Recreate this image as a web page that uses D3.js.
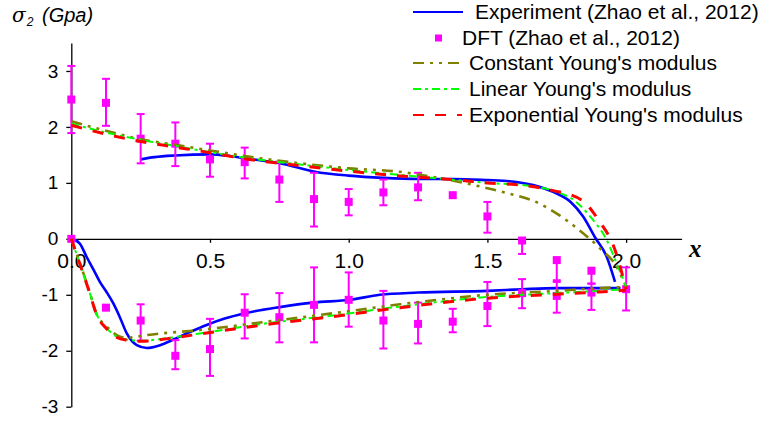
<!DOCTYPE html>
<html><head><meta charset="utf-8">
<script src="https://cdn.jsdelivr.net/npm/d3@7"></script>
<style>
html,body{margin:0;padding:0;background:#fff;}
svg{display:block;font-family:"Liberation Sans",Arial,sans-serif;}
</style></head>
<body><svg id="c" width="767" height="421"></svg>
<script>
// ---------------- data ----------------
const xTicks = [0, 0.5, 1.0, 1.5, 2.0];
const yTicks = [-3, -2, -1, 0, 1, 2, 3];

const legendLabels = ["Experiment (Zhao et al., 2012)", "DFT (Zhao et al., 2012)",
  "Constant Young's modulus", "Linear Young's modulus", "Exponential Young's modulus"];

// Experiment (blue) upper & lower branches
const expUpX = [0.25,0.3,0.375,0.5,0.56,0.625,0.752,0.878,1.0,1.125,1.25,1.375,1.5,1.58,1.665,1.75,1.8,1.845,1.89,1.93,1.96];
const expUpY = [1.42,1.46,1.49,1.51,1.49,1.44,1.35,1.20,1.13,1.09,1.07,1.07,1.05,1.03,0.96,0.81,0.66,0.40,0.01,-0.32,-0.77];
const expLoX = [0,0.03,0.055,0.08,0.103,0.127,0.151,0.175,0.2,0.236,0.272,0.32,0.368,0.43,0.488,0.55,0.626,0.752,0.872,1.005,1.112,1.25,1.5,1.627,1.75,1.98];
const expLoY = [0,-0.08,-0.32,-0.55,-0.77,-0.95,-1.15,-1.40,-1.69,-1.90,-1.95,-1.90,-1.80,-1.66,-1.54,-1.43,-1.33,-1.22,-1.14,-1.09,-1.00,-0.96,-0.93,-0.90,-0.88,-0.88];

// DFT (magenta squares with error bars)
const dftUpX  = [0,0.125,0.25,0.375,0.5,0.625,0.75,0.875,1.0,1.125,1.25,1.375,1.5,1.625,1.75,1.875];
const dftUpY  = [2.49,2.43,1.79,1.70,1.42,1.37,1.06,0.71,0.66,0.83,0.92,0.78,0.40,-0.03,-0.38,-0.57];
const dftUpEp = [0.60,0.43,0.44,0.38,0.28,0.26,0.32,0.47,0.23,0.23,0.26,0,0.26,0,0,0];
const dftUpEm = [0.60,0.41,0.44,0.40,0.31,0.29,0.40,0.49,0.24,0.23,0.23,0,0.29,0.24,0.39,0.23];
const dftLoX  = [0,0.125,0.25,0.375,0.5,0.625,0.75,0.875,1.0,1.125,1.25,1.375,1.5,1.625,1.75,1.875,2.0];
const dftLoY  = [0,-1.23,-1.46,-2.09,-1.97,-1.32,-1.40,-1.18,-1.09,-1.46,-1.52,-1.48,-1.20,-0.97,-1.02,-0.96,-0.90];
const dftLoEp = [0,0,0.29,0.28,0.54,0.33,0.43,0.67,0.49,0.53,0.38,0.23,0.43,0.25,0.28,0.16,0.39];
const dftLoEm = [0,0,0.36,0.24,0.48,0.46,0.45,0.67,0.48,0.50,0.35,0.19,0.36,0.27,0.30,0.31,0.38];

// Constant Young's modulus (olive)
const conUpX = [0,0.125,0.25,0.375,0.5,0.625,0.825,1.0,1.18,1.3,1.425,1.52,1.6,1.66,1.76,1.83,1.906,1.966,2.0];
const conUpY = [2.10,1.93,1.78,1.68,1.58,1.48,1.35,1.26,1.20,1.11,0.99,0.88,0.78,0.69,0.42,0.16,-0.17,-0.50,-0.86];
const conLoX = [0,0.031,0.067,0.09,0.128,0.164,0.2,0.22,0.272,0.464,0.704,0.944,1.185,1.5,1.75,1.906,2.0];
const conLoY = [0,-0.43,-0.97,-1.33,-1.57,-1.72,-1.77,-1.76,-1.72,-1.63,-1.48,-1.33,-1.17,-1.00,-0.93,-0.88,-0.86];

// Linear Young's modulus (green)
const linUpX = [0,0.125,0.25,0.375,0.5,0.625,0.75,0.875,1.0,1.125,1.3,1.5,1.66,1.75,1.82,1.87,1.93,1.966,2.0];
const linUpY = [2.06,1.90,1.77,1.66,1.55,1.45,1.37,1.30,1.23,1.17,1.09,1.00,0.94,0.84,0.66,0.40,-0.02,-0.44,-0.85];
const linLoX = [0,0.031,0.067,0.09,0.128,0.164,0.2,0.25,0.368,0.464,0.704,0.944,1.185,1.5,1.75,1.9,2.0];
const linLoY = [0,-0.45,-0.97,-1.33,-1.60,-1.75,-1.80,-1.82,-1.76,-1.69,-1.51,-1.37,-1.21,-1.04,-0.97,-0.93,-0.90];

// Exponential Young's modulus (red)
const expoUpX = [0,0.125,0.25,0.375,0.5,0.625,0.75,0.875,1.0,1.125,1.25,1.375,1.5,1.6,1.73,1.84,1.9,1.96,2.0];
const expoUpY = [2.03,1.87,1.74,1.64,1.54,1.43,1.35,1.28,1.21,1.15,1.10,1.06,1.00,0.97,0.87,0.69,0.34,-0.20,-0.90];
const expoLoX = [0,0.031,0.067,0.09,0.128,0.164,0.2,0.25,0.368,0.464,0.704,0.944,1.185,1.5,1.75,1.9,2.0];
const expoLoY = [0,-0.45,-0.98,-1.34,-1.61,-1.76,-1.81,-1.83,-1.77,-1.70,-1.53,-1.39,-1.23,-1.06,-0.99,-0.95,-0.92];

// ---------------- drawing ----------------
const svg = d3.select("#c");
const x = d3.scaleLinear().domain([0, 2.2]).range([71.3, 681.6]);
const y = d3.scaleLinear().domain([-3, 3.5]).range([406.7, 43.0]);

const zip = (xs, ys) => xs.map((v, i) => [v, ys[i]]);
const line = d3.line().x(d => x(d[0])).y(d => y(d[1])).curve(d3.curveMonotoneX);

// Axes
const yMinor = d3.range(-2.5, 3.6, 1);
const gy = svg.append("g").attr("transform", `translate(${x(0)},0)`);
gy.call(d3.axisLeft(y).tickValues(yMinor).tickSize(3).tickSizeOuter(0).tickFormat(""));
gy.call(d3.axisLeft(y).tickValues(yTicks).tickSize(5).tickSizeOuter(0).tickPadding(8)
  .tickFormat(d => (d < 0 ? "-" : "") + Math.abs(d)));
gy.selectAll("text").attr("font-size", 19).attr("font-family", "Liberation Sans, Arial, sans-serif").attr("fill", "#000");
gy.selectAll("path.domain,line").attr("stroke", "#000").attr("stroke-width", 1.3);

const gx = svg.append("g").attr("transform", `translate(0,${y(0)})`);
gx.call(d3.axisBottom(x).tickValues([0.25, 0.75, 1.25, 1.75]).tickSize(3).tickSizeOuter(0).tickFormat(""));
gx.call(d3.axisBottom(x).tickValues(xTicks).tickSize(4).tickSizeOuter(0).tickPadding(10).tickFormat(d3.format(".1f")));
gx.selectAll("text").attr("font-size", 21).attr("font-family", "Liberation Sans, Arial, sans-serif").attr("fill", "#000");
gx.selectAll("path.domain,line").attr("stroke", "#000").attr("stroke-width", 1.3);

// Series styles
const styles = {
  exp:  {color: "#0000ff", width: 2.6, dash: null},
  con:  {color: "#808000", width: 2.6, dash: "11,6,3,6,3,6"},
  lin:  {color: "#00ff00", width: 2.0, dash: "8,4,3,4"},
  expo: {color: "#ff0000", width: 3.0, dash: "11,11"}
};
function drawLine(data, st) {
  svg.append("path").datum(data).attr("d", line)
    .attr("fill", "none").attr("stroke", st.color).attr("stroke-width", st.width)
    .attr("stroke-dasharray", st.dash);
}

// Experiment
drawLine(zip(expUpX, expUpY), styles.exp);
drawLine(zip(expLoX, expLoY), styles.exp);

// DFT
function drawDFT(xs, ys, ep, em) {
  const g = svg.append("g");
  const mag = "#ff00ff";
  xs.forEach((xv, i) => {
    const cx = x(xv), cy = y(ys[i]);
    const top = y(ys[i] + ep[i]), bot = y(ys[i] - em[i]);
    if (ep[i] > 0 || em[i] > 0) {
      g.append("line").attr("x1", cx).attr("x2", cx).attr("y1", top).attr("y2", bot)
        .attr("stroke", mag).attr("stroke-width", 2);
    }
    if (ep[i] > 0) g.append("line").attr("x1", cx - 4).attr("x2", cx + 4).attr("y1", top).attr("y2", top).attr("stroke", mag).attr("stroke-width", 2);
    if (em[i] > 0) g.append("line").attr("x1", cx - 4).attr("x2", cx + 4).attr("y1", bot).attr("y2", bot).attr("stroke", mag).attr("stroke-width", 2);
    g.append("rect").attr("x", cx - 4).attr("y", cy - 4).attr("width", 8).attr("height", 8).attr("fill", mag);
  });
}
drawDFT(dftUpX, dftUpY, dftUpEp, dftUpEm);
drawDFT(dftLoX, dftLoY, dftLoEp, dftLoEm);

drawLine(zip(conUpX, conUpY), styles.con);
drawLine(zip(conLoX, conLoY), styles.con);
drawLine(zip(linUpX, linUpY), styles.lin);
drawLine(zip(linLoX, linLoY), styles.lin);
drawLine(zip(expoUpX, expoUpY), styles.expo);
drawLine(zip(expoLoX, expoLoY), styles.expo);

// Axis titles
const yt = svg.append("text").attr("y", 22).attr("font-size", 20).attr("font-style", "italic").attr("fill", "#000");
yt.append("tspan").attr("x", 12).text("σ").attr("font-family", "DejaVu Serif, serif");
yt.append("tspan").text("2").attr("font-size", 12).attr("dy", 4).attr("dx", 1);
yt.append("tspan").attr("x", 42).text("(Gpa)").attr("dy", -4);

svg.append("text").attr("x", 689).attr("y", 257).text("x")
  .attr("font-family", "Liberation Serif, Times New Roman, serif").attr("font-size", 25)
  .attr("font-style", "italic").attr("font-weight", "bold").attr("fill", "#000");

// Legend
const lg = svg.append("g").attr("font-size", 21).attr("fill", "#000");
const rows = [
  {key: "exp", base: 19, tx: 475},
  {key: "dft", base: 45, tx: 462},
  {key: "con", base: 70, tx: 469},
  {key: "lin", base: 96, tx: 469},
  {key: "expo", base: 122, tx: 469}
];
rows.forEach((r, i) => {
  const ly = r.base - 7;
  if (r.key === "dft") {
    lg.append("rect").attr("x", 435).attr("y", ly - 3.5).attr("width", 7).attr("height", 7).attr("fill", "#ff00ff");
  } else {
    const st = styles[r.key];
    lg.append("line").attr("x1", 413).attr("x2", r.key === "exp" ? 463 : 462).attr("y1", ly).attr("y2", ly)
      .attr("stroke", st.color).attr("stroke-width", 2).attr("stroke-dasharray", st.dash);
  }
  lg.append("text").attr("x", r.tx).attr("y", r.base).text(legendLabels[i]);
});
</script></body></html>
